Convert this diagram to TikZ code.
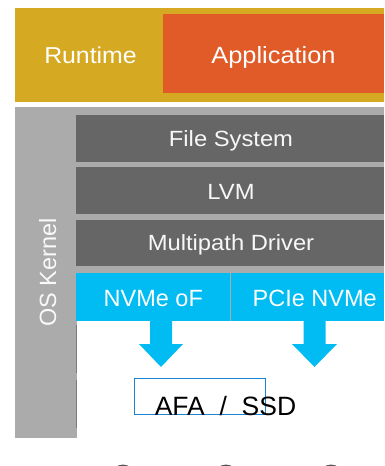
\documentclass[tikz,border=0pt]{standalone}
\usepackage{fontspec}
\setmainfont{Liberation Sans}
\newfontfamily\widesans{Liberation Sans}[FakeStretch=1.08]
\definecolor{runtimegold}{HTML}{D5A922}
\definecolor{apporange}{HTML}{E05B27}
\definecolor{kernelgray}{HTML}{ABABAB}
\definecolor{layergray}{HTML}{666666}
\definecolor{nvmeblue}{HTML}{00BCF2}
\definecolor{afablue}{HTML}{1C84D4}
\definecolor{edgegray}{HTML}{7A7A7A}
\definecolor{dotgray}{HTML}{555555}

\begin{document}
\begin{tikzpicture}[x=1pt,y=-1pt,
  panel/.style={draw=none, inner sep=0pt, outer sep=0pt, anchor=north west},
  label/.style={inner sep=0pt, anchor=base, text=white},
  widetext/.style={label, font=\widesans\fontsize{#1}{#1}\selectfont},
  plaintext/.style={label, font=\fontsize{#1}{#1}\selectfont},
  bigarrow/.style={fill=nvmeblue, draw=none}
]
\useasboundingbox (0,0) rectangle (384,466);

% user space
\node[panel, fill=runtimegold, minimum width=369pt, minimum height=93.4pt] (runtime) at (15,8.3) {};
\node[panel, fill=apporange, minimum width=221pt, minimum height=79.3pt] (app) at (163,14) {};

% kernel background and side strip
\node[panel, fill=kernelgray, minimum width=369pt, minimum height=214pt] (kernel) at (15,106.7) {};
\node[panel, fill=kernelgray, minimum width=62pt, minimum height=331.5pt] (strip) at (15,106.7) {};

% kernel layers
\node[panel, fill=layergray, minimum width=308pt, minimum height=46.7pt] (fs) at (76,115) {};
\node[panel, fill=layergray, minimum width=308pt, minimum height=46.7pt] (lvm) at (76,167.3) {};
\node[panel, fill=layergray, minimum width=308pt, minimum height=46.3pt] (mp) at (76,220) {};

% transports
\node[panel, fill=nvmeblue, minimum width=153.5pt, minimum height=48pt] (nvmeof) at (76,272.7) {};
\node[panel, fill=nvmeblue, minimum width=153.5pt, minimum height=48pt] (pcie) at (230.5,272.7) {};

% storage target
\node[panel, draw=afablue, line width=1pt, minimum width=131pt, minimum height=36pt] (afa) at (134,378) {};

% residual edges beside the strip
\draw[edgegray, line width=0.8pt] (76.3,325) -- (76.3,373);
\draw[edgegray, line width=0.8pt] (76.3,380) -- (76.3,428);

% texts
\node[widetext=23] (truntime) at (90.5,63.3) {Runtime};
\node[widetext=23.5] (tapp) at (273.5,63.3) {Application};
\node[widetext=22, text=white!94!gray] (tfs) at (231,146.7) {File System};
\node[widetext=22, text=white!94!gray] (tlvm) at (231,199.3) {LVM};
\node[widetext=22, text=white!94!gray] (tmp) at (231,250.7) {Multipath Driver};
\node[plaintext=23.5] (tnvmeof) at (153.3,306) {NVMe oF};
\node[plaintext=23.5] (tpcie) at (314.7,306) {PCIe NVMe};
\node[plaintext=23.5, rotate=90, text=white!95!gray] (tkernel) at (56,272.5) {OS Kernel};
\node[plaintext=26.5, text=black] (tafa) at (225.5,415) {AFA\ \ /\ \ SSD};

% block arrows out of the transports
\fill[bigarrow] (150,320.7) -- (172,320.7) -- (172,344) -- (183,344) -- (161,367)
  -- (139,344) -- (150,344) -- cycle;
\fill[bigarrow] (303.5,320.7) -- (325.5,320.7) -- (325.5,344) -- (337,344) -- (314.5,367)
  -- (292,344) -- (303.5,344) -- cycle;

% dots along the lower edge
\begin{scope}
  \clip (0,0) rectangle (384,466);
  \fill[dotgray] (123,476.5) circle (12pt);
  \fill[dotgray] (226,476.5) circle (12pt);
  \fill[dotgray] (331,476.5) circle (12pt);
\end{scope}
\end{tikzpicture}
\end{document}
